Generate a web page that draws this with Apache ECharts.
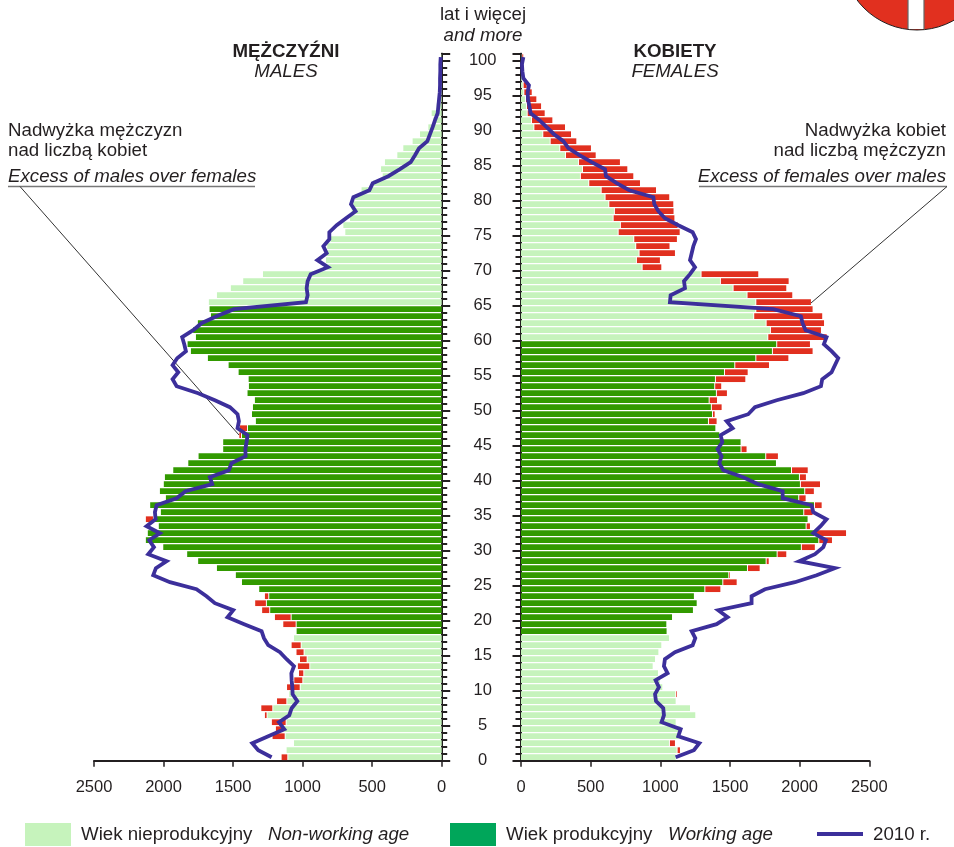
<!DOCTYPE html>
<html>
<head>
<meta charset="utf-8">
<style>html,body{margin:0;padding:0;background:#fff}#c{width:954px;height:847px}</style>
<script src="https://cdn.jsdelivr.net/npm/echarts@6/dist/echarts.min.js"></script>
</head>
<body>
<div id="c"></div>
<script>
const ages = Array.from({length:101},(_,i)=>String(i));
const maleBase = [1103,1115,1062,1122,1132,1115,1252,1211,1110,1096,1014,995,988,945,964,986,1007,1062,1043,1043,1079,1233,1257,1240,1312,1436,1480,1616,1751,1830,2002,2127,2113,2034,2069,2019,2096,1983,2026,1998,1990,1930,1822,1748,1571,1571,1436,1393,1336,1364,1357,1343,1396,1386,1388,1460,1532,1681,1803,1827,1767,1787,1753,1659,1669,1674,1616,1516,1427,1285,823,832,827,823,799,693,707,659,647,635,623,576,492,424,436,408,319,276,209,156,96,60,72,36,20,15,10,8,6,4,3];
const maleExcess = [48,0,0,94,60,106,19,86,74,0,98,65,38,89,55,58,72,0,0,96,120,58,84,31,0,0,0,0,0,0,0,0,0,0,58,0,0,0,0,0,0,0,0,0,0,0,19,58,0,0,0,0,0,0,0,0,0,0,0,0,0,0,0,0,0,0,0,0,0,0,0,0,0,0,0,0,0,0,0,0,0,0,0,0,0,0,0,0,0,0,0,0,0,0,0,0,0,0,0,0,0];
const male2010 = [1223,1319,1362,1247,1132,1170,1096,1079,1038,1072,1074,1079,1081,1062,1115,1163,1247,1278,1295,1420,1540,1499,1631,1691,1763,1954,2074,2055,1978,2110,2069,2103,2026,2122,2057,2062,2050,1906,1842,1650,1667,1530,1511,1410,1412,1403,1396,1468,1458,1468,1523,1631,1751,1906,1935,1894,1935,1902,1839,1851,1866,1787,1727,1619,1494,976,964,971,964,942,818,894,827,851,808,808,755,688,619,652,635,520,496,384,300,223,192,163,103,84,65,48,29,24,19,14,12,12,10,10,7];
const femaleBase = [1110,1117,1062,1129,1146,1110,1251,1213,1110,1107,1014,997,983,945,962,986,1007,1062,1045,1043,1084,1234,1261,1241,1316,1445,1488,1622,1756,1835,2009,2134,2103,2043,2057,2026,2103,1990,2033,2002,1995,1938,1830,1753,1576,1576,1423,1395,1342,1371,1363,1347,1399,1387,1392,1457,1531,1682,1801,1832,1768,1787,1756,1667,1682,1682,1619,1519,1428,1289,866,825,844,820,806,694,710,658,667,627,600,572,483,423,438,409,316,275,206,153,89,72,41,36,29,17,12,6,4,3,2];
const femaleExcess = [0,24,43,0,0,0,0,0,0,12,0,0,0,0,0,0,0,0,0,0,0,0,0,0,115,103,12,91,22,69,100,98,230,31,0,67,55,53,69,144,50,120,0,91,43,0,0,0,62,19,77,60,79,50,218,170,249,237,292,242,426,366,419,495,411,399,328,385,493,414,141,172,261,246,313,445,414,443,428,466,464,397,371,383,325,301,220,227,191,206,227,153,129,108,81,60,29,0,0,0,14];
const female2010 = [1110,1241,1280,1129,1146,1009,1026,1021,969,962,990,966,1052,1026,1033,1105,1232,1251,1225,1404,1483,1416,1655,1655,1751,1966,2122,2253,1997,2110,2170,2189,2098,2150,2193,2098,2086,1878,1878,1703,1595,1452,1423,1440,1411,1445,1433,1519,1476,1631,1679,1835,2026,2153,2162,2229,2253,2277,2229,2174,2193,2043,2021,2009,1811,1069,1074,1177,1170,1213,1249,1213,1225,1237,1256,1232,1129,1033,986,957,950,777,687,610,603,507,419,340,304,237,184,132,69,60,50,48,57,17,10,7,17];
const workingFrom = 18, maleWorkingTo = 64, femaleWorkingTo = 59;

const NW='Wiek nieprodukcyjny', W='Wiek produkcyjny', L='2010 r.', EX='Nadwyżka', GAP='odstęp';
const gapUnits=7;
const cLight='#c6f3bc', cDark='#329a00', cRed='#e1301f', cLine='#3c2f9b', ink='#231f20';
const font='"Liberation Sans", Arial, sans-serif';

function axisX(idx, inverse){
  return {type:'value',gridIndex:idx,inverse,min:0,max:2500,interval:500,position:'bottom',
    axisLine:{show:true,onZero:false,lineStyle:{color:ink,width:2}},
    axisTick:{show:true,length:6,lineStyle:{color:ink,width:1.5}},
    axisLabel:{show:true,margin:18,fontSize:16.5,fontFamily:font,color:ink,formatter:v=>String(v)},
    splitLine:{show:false}};
}
function axisY(idx,pos,len,every,labels){
  return {type:'category',gridIndex:idx,data:ages,position:pos,boundaryGap:true,
    axisLine:{show:true,onZero:false,lineStyle:{color:ink,width:2}},
    axisTick:{show:true,length:len,interval:every,lineStyle:{color:ink,width:2}},
    axisLabel:labels?{show:true,margin:41,align:'center',verticalAlign:'top',lineHeight:6,fontSize:16.5,fontFamily:font,color:ink,
      interval:(i)=>i%5===0}:{show:false},
    splitLine:{show:false}};
}
function side(idx,base,excess,line,to){
  const yi=idx*2;
  const w=base.map((v,i)=>i>=workingFrom&&i<=to?v:0);
  const n=base.map((v,i)=>i>=workingFrom&&i<=to?0:v);
  const bar={type:'bar',xAxisIndex:idx,yAxisIndex:yi,stack:'s'+idx,barWidth:5.7,animation:false,silent:true};
  return [
    {...bar,name:NW,data:n,itemStyle:{color:cLight}},
    {...bar,name:W,data:w,itemStyle:{color:cDark}},
    {...bar,name:GAP,data:excess.map(v=>v>0?gapUnits:0),itemStyle:{color:'rgba(255,255,255,0)'}},
    {...bar,name:EX,data:excess.map(v=>v>0?v-gapUnits:0),itemStyle:{color:cRed}},
    {type:'line',name:L,xAxisIndex:idx,yAxisIndex:yi,data:line.map((v,i)=>[v,ages[i]]),symbol:'none',z:5,animation:false,silent:true,
      lineStyle:{color:cLine,width:3.8,join:'miter'},itemStyle:{color:cLine}}
  ];
}
function legend(left,top,name,color,w,h,fmt){
  return {left,top,orient:'horizontal',itemWidth:w,itemHeight:h,icon:'rect',itemGap:0,selectedMode:false,
    data:[{name,icon:'rect',itemStyle:{color,borderWidth:0}}],
    formatter:fmt,
    textStyle:{color:ink,fontFamily:font,fontSize:18.7,padding:[1,0,0,5],
      rich:{a:{fontSize:18.7,fontFamily:font,color:ink},b:{fontSize:18.7,fontFamily:font,color:ink,fontStyle:'italic'}}}};
}
const FS='18.7px ';
function txt(x,y,text,o){
  return {type:'text',x,y,silent:true,style:Object.assign({text,fill:ink,font:FS+font,textAlign:'center',textVerticalAlign:'middle'},o||{})};
}
function seg(a,b,c,d,col,w){
  return {type:'line',silent:true,shape:{x1:a,y1:b,x2:c,y2:d},style:{stroke:col,lineWidth:w}};
}
const it='italic '+FS+font;
const bd='bold '+FS+font;
const option={
  animation:false,
  backgroundColor:'#fff',
  grid:[
    {left:94,right:954-441.7,top:53.7,height:707,containLabel:false},
    {left:521,width:348.3,top:53.7,height:707,containLabel:false}
  ],
  xAxis:[axisX(0,true),axisX(1,false)],
  yAxis:[axisY(0,'right',5.5,0,true),axisY(0,'right',8.5,4,false),axisY(1,'left',5.5,0,false),axisY(1,'left',8.5,4,false)],
  legend:[
    legend(20,818,NW,cLight,46,23,()=>'{a|Wiek nieprodukcyjny}   {b|Non-working age}'),
    legend(445,818,W,'#00a65a',46,23,()=>'{a|Wiek produkcyjny}   {b|Working age}'),
    legend(812,820,L,cLine,46,4,()=>'{a|2010 r.}')
  ],
  series:[...side(0,maleBase,maleExcess,male2010,maleWorkingTo),...side(1,femaleBase,femaleExcess,female2010,femaleWorkingTo)],
  graphic:[
    txt(483,15,'lat i więcej'),
    txt(483,36,'and more',{font:it}),
    txt(286,52,'MĘŻCZYŹNI',{font:bd}),
    txt(286,72,'MALES',{font:it}),
    txt(675,52,'KOBIETY',{font:bd}),
    txt(675,72,'FEMALES',{font:it}),
    txt(8,131,'Nadwyżka mężczyzn',{textAlign:'left'}),
    txt(8,151,'nad liczbą kobiet',{textAlign:'left'}),
    txt(8,177,'Excess of males over females',{textAlign:'left',font:it}),
    seg(8,186.5,255,186.5,'#777',1.5),
    seg(20,186.5,239,435,'#333',1),
    txt(946,131,'Nadwyżka kobiet',{textAlign:'right'}),
    txt(946,151,'nad liczbą mężczyzn',{textAlign:'right'}),
    txt(946,177,'Excess of females over males',{textAlign:'right',font:it}),
    seg(699,186.5,947,186.5,'#777',1.5),
    seg(947,186.5,811,303,'#333',1),
    {type:'circle',silent:true,shape:{cx:917,cy:-45,r:75},style:{fill:cRed}},
    {type:'rect',silent:true,shape:{x:908,y:0,width:16,height:29},style:{fill:'#fff'}},
    seg(908,0,908,29,'#666',1.2),
    seg(924,0,924,29,'#666',1.2),
    {type:'circle',silent:true,shape:{cx:917,cy:-45,r:75},style:{fill:'rgba(0,0,0,0)',stroke:'#231f20',lineWidth:1}}
  ]
};
echarts.init(document.getElementById('c'),null,{renderer:'canvas'}).setOption(option);
</script>
</body>
</html>
